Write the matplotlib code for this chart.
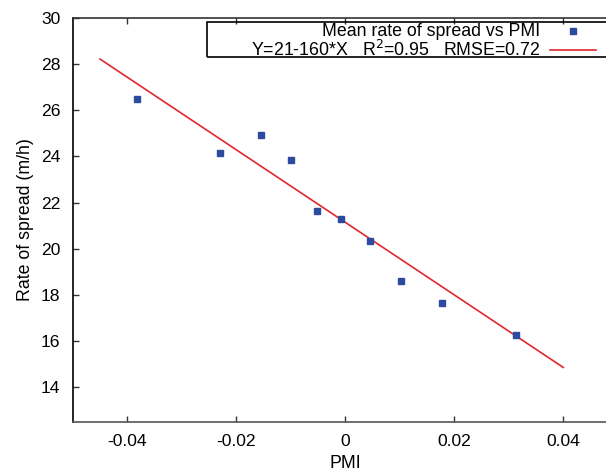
import matplotlib
matplotlib.use("Agg")
import matplotlib.pyplot as plt
from matplotlib.patches import Rectangle
from matplotlib.lines import Line2D

plt.rcParams['font.family'] = ['Liberation Sans', 'DejaVu Sans']

# Data
pmi = [-0.0382, -0.0230, -0.0155, -0.0099, -0.0051, -0.0007, 0.0046, 0.0103, 0.0178, 0.0313]
rate = [26.48, 24.13, 24.91, 23.83, 21.65, 21.30, 20.35, 18.58, 17.65, 16.26]
fit_x = [-0.045, 0.040]
fit_y = [28.22, 14.85]
xticks = [-0.04, -0.02, 0, 0.02, 0.04]
xticklabels = ['-0.04', '-0.02', '0', '0.02', '0.04']
yticks = [14, 16, 18, 20, 22, 24, 26, 28, 30]
yticklabels = ['14', '16', '18', '20', '22', '24', '26', '28', '30']
label_points = 'Mean rate of spread vs PMI'
label_fit = 'Y=21-160*X   R$^2$=0.95   RMSE=0.72'

blue = '#2d4b9e'
red = '#e3262b'
fs = 12.8

fig = plt.figure(figsize=(6.06, 4.73), dpi=100)
ax = fig.add_axes([0.12, 0.1085, 0.8995, 0.8535])

ax.plot(fit_x, fit_y, color=red, lw=1.2, zorder=2)
ax.plot(pmi, rate, ls='none', marker='s', ms=4.3, color=blue, mec=blue, zorder=3)

ax.set_xlim(-0.05, 0.05)
ax.set_ylim(12.5, 30)
ax.set_xticks(xticks)
ax.set_xticklabels(xticklabels)
ax.set_yticks(yticks)
ax.set_yticklabels(yticklabels)
ax.tick_params(direction='in', length=4, width=1, top=True, right=False,
               labelsize=12.6, pad=9, colors='#333333', labelcolor='black')
ax.spines['left'].set_color('black')
ax.spines['bottom'].set_color('#555555')
ax.spines['top'].set_color('#333333')
ax.spines['right'].set_visible(False)
for s in ax.spines.values():
    s.set_linewidth(1.2)

ax.set_xlabel('PMI', fontsize=fs, labelpad=4.5)
ax.set_ylabel('Rate of spread (m/h)', fontsize=fs, labelpad=5)

# gnuplot-style legend box
ax.add_patch(Rectangle((0.2464, 0.9034), 0.75, 0.0874, transform=ax.transAxes,
                       fill=False, ec='black', lw=1.2, clip_on=False, zorder=4))
ax.text(0.857, 0.9666, label_points, transform=ax.transAxes, ha='right', va='center',
        fontsize=fs)
ax.text(0.857, 0.9207, label_fit, transform=ax.transAxes, ha='right', va='center',
        fontsize=fs)
ax.add_line(Line2D([0.9174], [0.9666], transform=ax.transAxes, ls='none', marker='s',
                   ms=4.3, color=blue, clip_on=False))
ax.add_line(Line2D([0.876, 0.96], [0.9207, 0.9207], transform=ax.transAxes,
                   color=red, lw=1.2, clip_on=False))

fig.savefig('out.png', dpi=100)
